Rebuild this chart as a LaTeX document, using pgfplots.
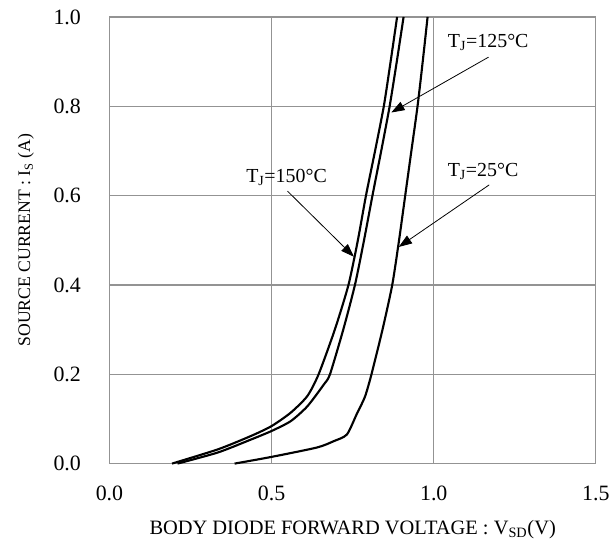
\documentclass[border=0pt]{standalone}
\usepackage{fontspec}
\setmainfont{Liberation Serif}
\usepackage{pgfplots}
\pgfplotsset{compat=1.18}
\usetikzlibrary{arrows.meta}

\pgfplotstableread{
x y
0.193 0.000
0.335 0.032
0.437 0.062
0.500 0.084
0.559 0.114
0.610 0.151
0.645 0.200
0.695 0.300
0.737 0.400
0.766 0.500
0.791 0.600
0.819 0.700
0.846 0.800
0.867 0.900
0.887 1.000
}\tjonefifty

\pgfplotstableread{
x y
0.210 0.000
0.335 0.025
0.437 0.054
0.500 0.073
0.559 0.095
0.610 0.128
0.661 0.177
0.680 0.200
0.721 0.300
0.757 0.400
0.785 0.500
0.811 0.600
0.838 0.700
0.864 0.800
0.886 0.900
0.907 1.000
}\tjonetwentyfive

\pgfplotstableread{
x y
0.386 0.000
0.500 0.015
0.640 0.036
0.691 0.050
0.732 0.065
0.762 0.110
0.788 0.150
0.808 0.200
0.842 0.300
0.872 0.400
0.893 0.500
0.912 0.600
0.931 0.700
0.950 0.800
0.966 0.900
0.981 1.000
}\tjtwentyfive

\begin{document}
\begin{tikzpicture}
\begin{axis}[
    scale only axis,
    width=366.75pt,
    height=336.75pt,
    xmin=0, xmax=1.5,
    ymin=0, ymax=1.0,
    xtick={0,0.5,1.0,1.5},
    ytick={0,0.2,0.4,0.6,0.8,1.0},
    major tick length=0pt,
    grid=major,
    grid style={gray!85, line width=0.9pt},
    axis line style={gray!85, line width=0.9pt},
    /pgf/number format/fixed,
    /pgf/number format/fixed zerofill,
    /pgf/number format/precision=1,
    /pgf/number format/assume math mode=true,
    tick label style={font=\fontsize{16.5}{18}\selectfont},
    xticklabel style={yshift=-13.5pt},
    yticklabel style={xshift=-18pt},
    xlabel={BODY DIODE FORWARD VOLTAGE : V\textsubscript{SD}(V)},
    ylabel={SOURCE CURRENT : I\textsubscript{S} (A)},
    xlabel style={font=\fontsize{15.4}{17}\selectfont, yshift=-8pt},
    ylabel style={font=\fontsize{13.3}{15}\selectfont, yshift=8pt},
    clip=false,
]
\addplot[black, line width=1.6pt, smooth, tension=0.4] table {\tjonefifty};
\addplot[black, line width=1.6pt, smooth, tension=0.4] table {\tjonetwentyfive};
\addplot[black, line width=1.6pt, smooth, tension=0.4] table {\tjtwentyfive};

\node[font=\fontsize{15}{17}\selectfont] at (axis cs:1.168,0.942) {T\textsubscript{J}=125°C};
\node[font=\fontsize{15}{17}\selectfont] at (axis cs:1.152,0.655) {T\textsubscript{J}=25°C};
\node[font=\fontsize{15}{17}\selectfont] at (axis cs:0.546,0.641) {T\textsubscript{J}=150°C};
\draw[-{Triangle[length=10pt,width=7pt]}, line width=0.6pt] (axis cs:1.169,0.910) -- (axis cs:0.869,0.786);
\draw[-{Triangle[length=10pt,width=7pt]}, line width=0.6pt] (axis cs:1.171,0.624) -- (axis cs:0.892,0.485);
\draw[-{Triangle[length=10pt,width=7pt]}, line width=0.6pt] (axis cs:0.549,0.610) -- (axis cs:0.754,0.463);

\path (rel axis cs:-0.225,-0.1804) rectangle (rel axis cs:1.0327,1.0379);
\end{axis}
\end{tikzpicture}
\end{document}
